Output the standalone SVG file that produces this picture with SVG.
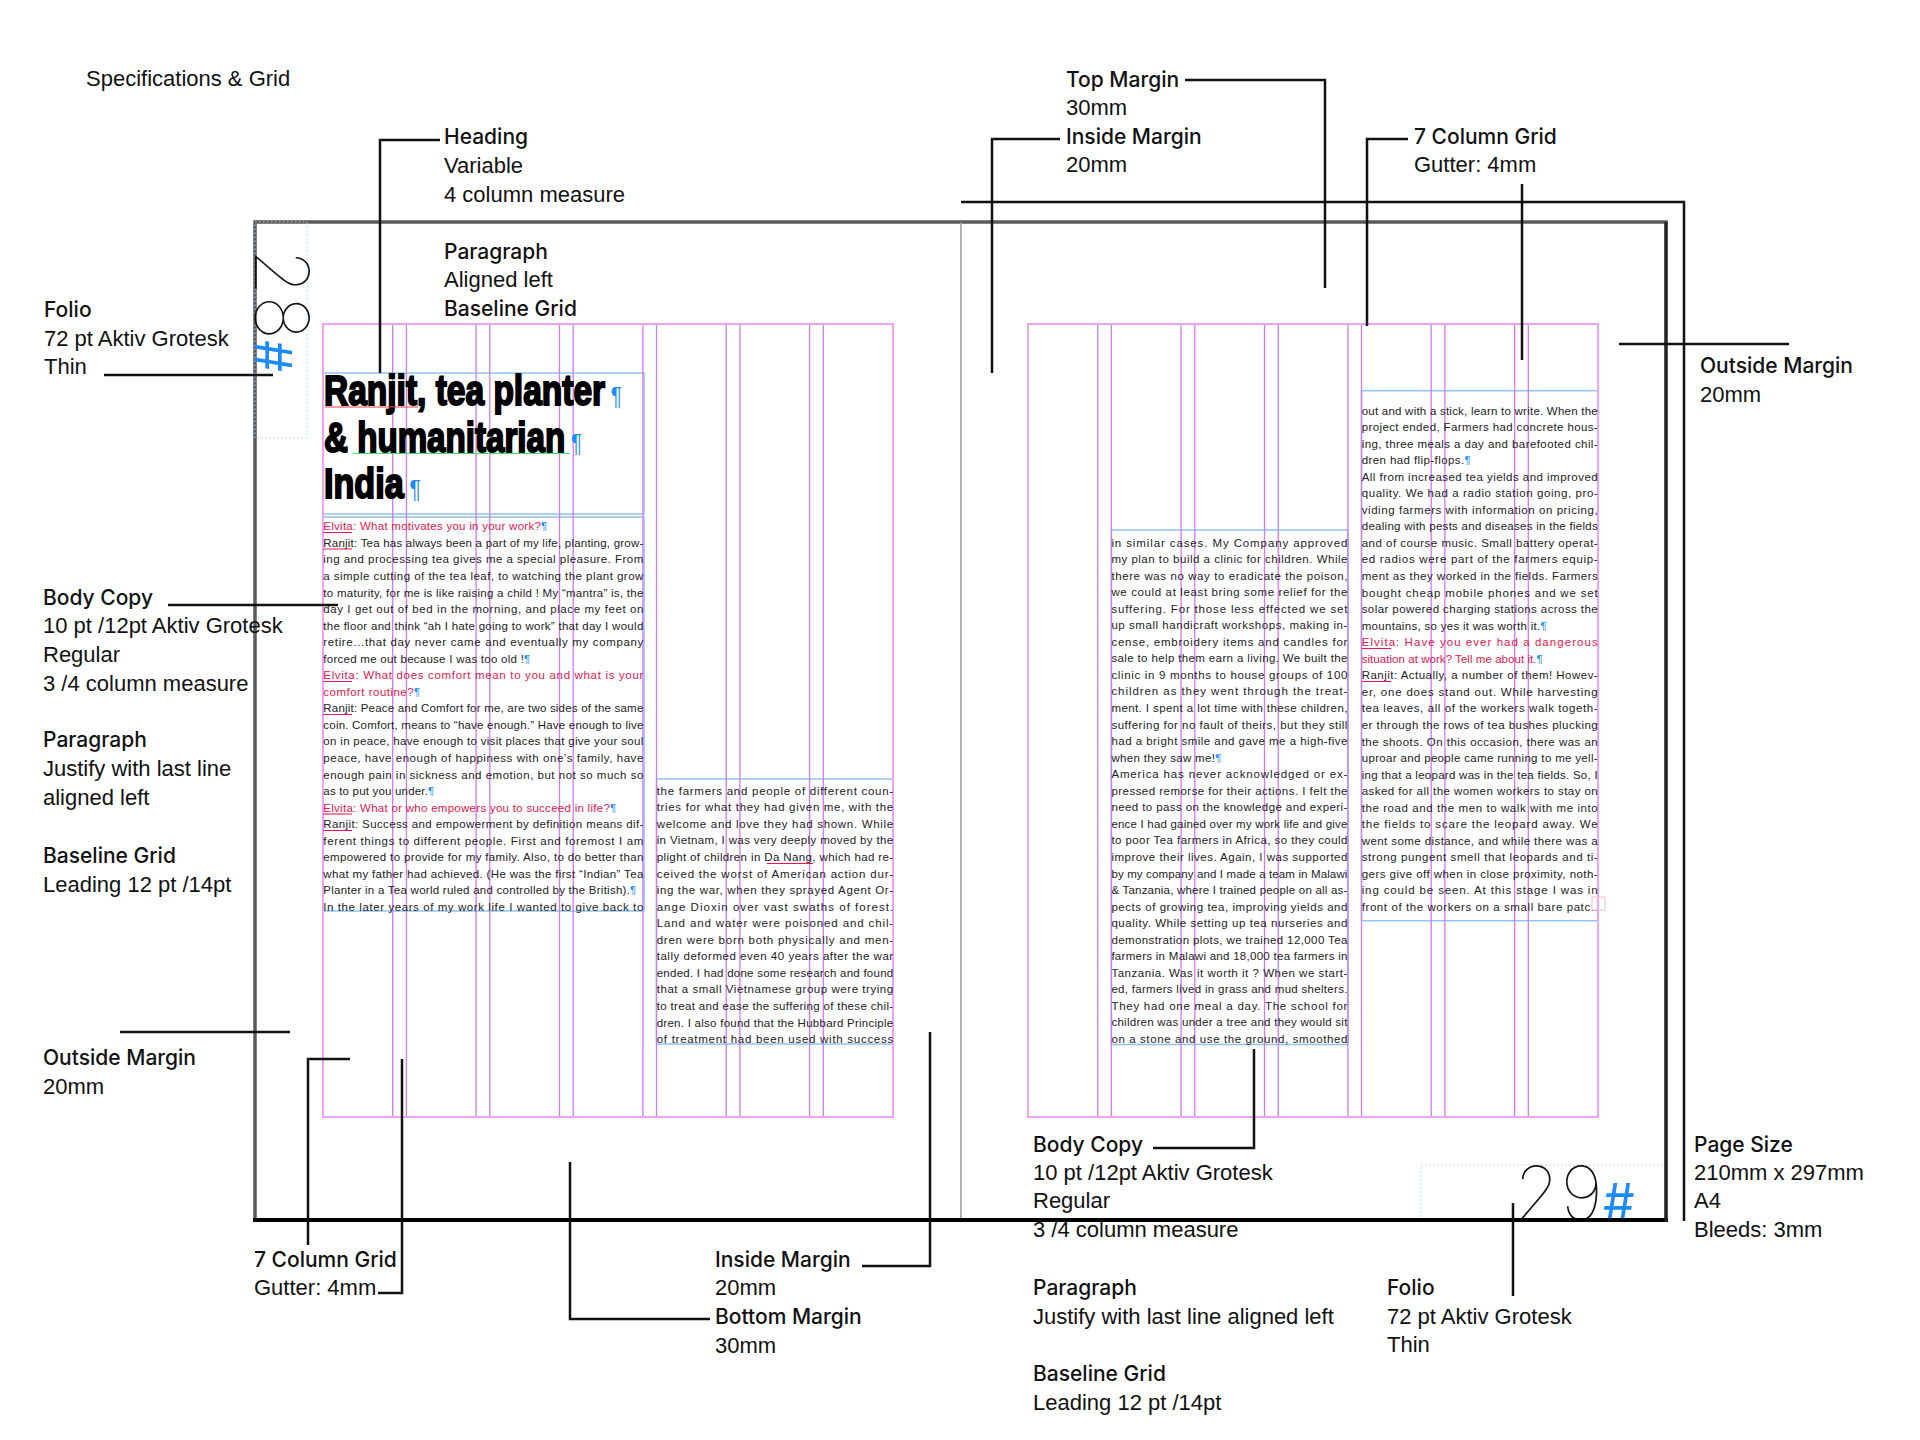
<svg xmlns="http://www.w3.org/2000/svg" width="1920" height="1440" viewBox="0 0 1920 1440">
<style>
.lbl{font-family:"Liberation Sans",Arial,sans-serif;font-size:22px;fill:#111}
.lb{font-family:Inter,"Liberation Sans",sans-serif;font-weight:500;font-size:21px;fill:#111}
.ldr{fill:none;stroke:#111;stroke-width:2.5}
.gv{fill:none;stroke:#d27af2;stroke-width:1.3}
.gh{fill:none;stroke:#f0a2f7;stroke-width:2}
.frm{fill:none;stroke:#8fc3f2;stroke-width:1.5}
.dot{fill:none;stroke:#a9d2f2;stroke-width:1;stroke-dasharray:1.5 2.5}
.bt{font-family:"Liberation Sans",Arial,sans-serif;font-size:11.5px;fill:#222}
.rt{fill:#e8174b}
.pil{fill:#1a8cff}
.hp{fill:#1a8cff;stroke:none;font-family:"Liberation Sans",sans-serif;font-weight:normal;font-size:26px}
.sp{stroke:#e8174b;stroke-width:1}
.hd{font-family:"Liberation Sans Narrow","Liberation Sans",sans-serif;font-weight:bold;font-size:42px;fill:#000;stroke:#000;stroke-width:2}
.fol{font-family:Inter,"Liberation Sans",sans-serif;font-weight:100;font-size:75px;fill:#111}
.hash{font-family:Inter,"Liberation Sans",sans-serif;font-weight:400;font-size:50px;fill:#1a8cff}
</style>

<g id="pages">
  <rect x="255" y="222" width="1411" height="998" fill="none" stroke="#5a5a5a" stroke-width="3.5"/>
  <path d="M961,222 V1220" stroke="#9a9a9a" stroke-width="1.5"/>
  <rect class="dot" x="255" y="222" width="52" height="216"/>
  <rect class="dot" x="1421" y="1165" width="245" height="55"/>
</g>

<g id="grid">
  <rect class="frm" x="323" y="373" width="321" height="141"/>
  <rect class="frm" x="323" y="517" width="321" height="394"/>
  <rect class="frm" x="656.5" y="779" width="236.5" height="265"/>
  <rect class="frm" x="1111.4" y="530" width="236.5" height="514.5"/>
  <rect class="frm" x="1361.5" y="390.7" width="236.5" height="530"/>
  <path class="gv" d="M392.7,324V1117M406.4,324V1117M476.1,324V1117M489.8,324V1117M559.5,324V1117M573.2,324V1117M642.9,324V1117M656.5,324V1117M726.2,324V1117M739.9,324V1117M809.6,324V1117M823.3,324V1117"/>
  <path class="gv" d="M1097.7,324V1117M1111.4,324V1117M1181.1,324V1117M1194.8,324V1117M1264.5,324V1117M1278.2,324V1117M1347.9,324V1117M1361.5,324V1117M1431.2,324V1117M1444.9,324V1117M1514.6,324V1117M1528.3,324V1117"/>
  <rect class="gh" x="323" y="324" width="570" height="793"/>
  <rect class="gh" x="1028" y="324" width="570" height="793"/>
</g>

<g id="folio-28">
  <text class="fol" transform="translate(255,249) rotate(90)">28<tspan class="hash">#</tspan></text>
</g>
<g id="folio-29">
  <text class="fol" x="1514" y="1220">29<tspan class="hash">#</tspan></text>
</g>

<g id="page-frame-lines">
  <path d="M253,1220 H1668" stroke="#000" stroke-width="4"/>
  <path d="M1666,222 V1222" stroke="#222" stroke-width="3"/>
</g>

<g id="heading-text">
  <text class="hd" x="324" y="405" textLength="298" lengthAdjust="spacingAndGlyphs">Ranjit, tea planter<tspan class="hp"> ¶</tspan></text>
  <text class="hd" x="324" y="452" textLength="258" lengthAdjust="spacingAndGlyphs">&amp; humanitarian<tspan class="hp"> ¶</tspan></text>
  <text class="hd" x="324" y="498" textLength="97" lengthAdjust="spacingAndGlyphs">India<tspan class="hp"> ¶</tspan></text>
  <path d="M325,407 H418" stroke="#f04040" stroke-width="1.2"/>
  <path d="M353,453.5 H570" stroke="#40e070" stroke-width="1.2"/>
</g>

<g id="body-left-1">
  <text class="bt rt" x="323.3" y="530.3" textLength="224">Elvita: What motivates you in your work?<tspan class="pil">¶</tspan></text>
  <text class="bt" x="323.3" y="546.85" textLength="320">Ranjit: Tea has always been a part of my life, planting, grow-</text>
  <text class="bt" x="323.3" y="563.4" textLength="320">ing and processing tea gives me a special pleasure. From</text>
  <text class="bt" x="323.3" y="579.95" textLength="320">a simple cutting of the tea leaf, to watching the plant grow</text>
  <text class="bt" x="323.3" y="596.5" textLength="320">to maturity, for me is like raising a child ! My “mantra” is, the</text>
  <text class="bt" x="323.3" y="613.05" textLength="320">day I get out of bed in the morning, and place my feet on</text>
  <text class="bt" x="323.3" y="629.6" textLength="320">the floor and think “ah I hate going to work” that day I would</text>
  <text class="bt" x="323.3" y="646.15" textLength="320">retire...that day never came and eventually my company</text>
  <text class="bt" x="323.3" y="662.7" textLength="207">forced me out because I was too old !<tspan class="pil">¶</tspan></text>
  <text class="bt rt" x="323.3" y="679.25" textLength="320">Elvita: What does comfort mean to you and what is your</text>
  <text class="bt rt" x="323.3" y="695.8" textLength="97">comfort routine?<tspan class="pil">¶</tspan></text>
  <text class="bt" x="323.3" y="712.35" textLength="320">Ranjit: Peace and Comfort for me, are two sides of the same</text>
  <text class="bt" x="323.3" y="728.9" textLength="320">coin. Comfort, means to “have enough.” Have enough to live</text>
  <text class="bt" x="323.3" y="745.45" textLength="320">on in peace, have enough to visit places that give your soul</text>
  <text class="bt" x="323.3" y="762" textLength="320">peace, have enough of happiness with one’s family, have</text>
  <text class="bt" x="323.3" y="778.55" textLength="320">enough pain in sickness and emotion, but not so much so</text>
  <text class="bt" x="323.3" y="795.1" textLength="111">as to put you under.<tspan class="pil">¶</tspan></text>
  <text class="bt rt" x="323.3" y="811.65" textLength="293">Elvita: What or who empowers you to succeed in life?<tspan class="pil">¶</tspan></text>
  <text class="bt" x="323.3" y="828.2" textLength="320">Ranjit: Success and empowerment by definition means dif-</text>
  <text class="bt" x="323.3" y="844.75" textLength="320">ferent things to different people. First and foremost  I am</text>
  <text class="bt" x="323.3" y="861.3" textLength="320">empowered to provide for my family. Also, to do better than</text>
  <text class="bt" x="323.3" y="877.85" textLength="320">what my father had achieved.  (He was the first “Indian” Tea</text>
  <text class="bt" x="323.3" y="894.4" textLength="313">Planter in a Tea world ruled and controlled by the British).<tspan class="pil">¶</tspan></text>
  <text class="bt" x="323.3" y="910.95" textLength="320">In the later years of my work life I wanted to give back to</text>
  <path class="sp" d="M323,532.5H352M323,549H352M323,681.5H352M323,714.5H352M323,814H352M323,830.5H352"/>
</g>

<g id="body-left-2">
  <text class="bt" x="656.7" y="794.8" textLength="236.5">the farmers and people of different coun-</text>
  <text class="bt" x="656.7" y="811.35" textLength="236.5">tries for what they had given me, with the</text>
  <text class="bt" x="656.7" y="827.9" textLength="236.5">welcome and love they had shown. While</text>
  <text class="bt" x="656.7" y="844.45" textLength="236.5">in Vietnam, I was very deeply moved by the</text>
  <text class="bt" x="656.7" y="861" textLength="236.5">plight of children in Da Nang, which had re-</text>
  <text class="bt" x="656.7" y="877.55" textLength="236.5">ceived the worst of American action dur-</text>
  <text class="bt" x="656.7" y="894.1" textLength="236.5">ing the war, when they sprayed Agent Or-</text>
  <text class="bt" x="656.7" y="910.65" textLength="236.5">ange Dioxin over vast swaths of forest.</text>
  <text class="bt" x="656.7" y="927.2" textLength="236.5">Land and water were poisoned and  chil-</text>
  <text class="bt" x="656.7" y="943.75" textLength="236.5">dren were born both physically and men-</text>
  <text class="bt" x="656.7" y="960.3" textLength="236.5">tally deformed even 40 years after the war</text>
  <text class="bt" x="656.7" y="976.85" textLength="236.5">ended. I had done some research and found</text>
  <text class="bt" x="656.7" y="993.4" textLength="236.5">that a small Vietnamese group were trying</text>
  <text class="bt" x="656.7" y="1009.95" textLength="236.5">to treat and ease the suffering of these chil-</text>
  <text class="bt" x="656.7" y="1026.5" textLength="236.5">dren. I also found that the Hubbard Principle</text>
  <text class="bt" x="656.7" y="1043.05" textLength="236.5">of treatment had been used with success</text>
  <path class="sp" d="M767,863.5H813"/>
</g>

<g id="body-right-1">
  <text class="bt" x="1111.4" y="546.5" textLength="236">in similar cases. My Company approved</text>
  <text class="bt" x="1111.4" y="563.05" textLength="236">my plan to build a clinic for children. While</text>
  <text class="bt" x="1111.4" y="579.6" textLength="236">there was no way to eradicate the poison,</text>
  <text class="bt" x="1111.4" y="596.15" textLength="236">we could at least bring some relief for the</text>
  <text class="bt" x="1111.4" y="612.7" textLength="236">suffering. For those less effected we set</text>
  <text class="bt" x="1111.4" y="629.25" textLength="236">up small handicraft workshops, making in-</text>
  <text class="bt" x="1111.4" y="645.8" textLength="236">cense, embroidery items and candles for</text>
  <text class="bt" x="1111.4" y="662.35" textLength="236">sale to help them earn a living. We built the</text>
  <text class="bt" x="1111.4" y="678.9" textLength="236">clinic in 9 months to house groups of 100</text>
  <text class="bt" x="1111.4" y="695.45" textLength="236">children as they went through the treat-</text>
  <text class="bt" x="1111.4" y="712" textLength="236">ment. I spent a lot time with these children,</text>
  <text class="bt" x="1111.4" y="728.55" textLength="236">suffering for no fault of theirs, but they still</text>
  <text class="bt" x="1111.4" y="745.1" textLength="236">had a bright smile and gave me a high-five</text>
  <text class="bt" x="1111.4" y="761.65" textLength="110">when they saw me!<tspan class="pil">¶</tspan></text>
  <text class="bt" x="1111.4" y="778.2" textLength="236">America has never acknowledged or ex-</text>
  <text class="bt" x="1111.4" y="794.75" textLength="236">pressed remorse for their actions. I felt the</text>
  <text class="bt" x="1111.4" y="811.3" textLength="236">need to pass on the knowledge and experi-</text>
  <text class="bt" x="1111.4" y="827.85" textLength="236">ence I had gained over my work life and give</text>
  <text class="bt" x="1111.4" y="844.4" textLength="236">to poor Tea farmers in Africa, so they could</text>
  <text class="bt" x="1111.4" y="860.95" textLength="236">improve their lives. Again, I was supported</text>
  <text class="bt" x="1111.4" y="877.5" textLength="236">by my company and I made a team in Malawi</text>
  <text class="bt" x="1111.4" y="894.05" textLength="236">&amp; Tanzania, where I trained people on all as-</text>
  <text class="bt" x="1111.4" y="910.6" textLength="236">pects of growing tea, improving yields and</text>
  <text class="bt" x="1111.4" y="927.15" textLength="236">quality. While setting up tea nurseries and</text>
  <text class="bt" x="1111.4" y="943.7" textLength="236">demonstration plots, we trained 12,000 Tea</text>
  <text class="bt" x="1111.4" y="960.25" textLength="236">farmers in Malawi and 18,000 tea farmers in</text>
  <text class="bt" x="1111.4" y="976.8" textLength="236">Tanzania. Was it worth it ? When we start-</text>
  <text class="bt" x="1111.4" y="993.35" textLength="236">ed, farmers lived in grass and mud shelters.</text>
  <text class="bt" x="1111.4" y="1009.9" textLength="236">They had one meal a day. The school for</text>
  <text class="bt" x="1111.4" y="1026.45" textLength="236">children was under a tree and they would sit</text>
  <text class="bt" x="1111.4" y="1043" textLength="236">on a stone and use the ground, smoothed</text>
</g>

<g id="body-right-2">
  <text class="bt" x="1361.7" y="414.5" textLength="236">out and with a stick, learn to write. When the</text>
  <text class="bt" x="1361.7" y="431.05" textLength="236">project ended, Farmers had concrete hous-</text>
  <text class="bt" x="1361.7" y="447.6" textLength="236">ing, three meals a day and barefooted chil-</text>
  <text class="bt" x="1361.7" y="464.15" textLength="109">dren had flip-flops.<tspan class="pil">¶</tspan></text>
  <text class="bt" x="1361.7" y="480.7" textLength="236">All from increased tea yields and improved</text>
  <text class="bt" x="1361.7" y="497.25" textLength="236">quality. We had a radio station going, pro-</text>
  <text class="bt" x="1361.7" y="513.8" textLength="236">viding farmers with information on pricing,</text>
  <text class="bt" x="1361.7" y="530.35" textLength="236">dealing with pests and diseases in the fields</text>
  <text class="bt" x="1361.7" y="546.9" textLength="236">and of course music. Small battery operat-</text>
  <text class="bt" x="1361.7" y="563.45" textLength="236">ed radios were part of the farmers equip-</text>
  <text class="bt" x="1361.7" y="580" textLength="236">ment as they worked in the fields. Farmers</text>
  <text class="bt" x="1361.7" y="596.55" textLength="236">bought cheap mobile phones and we set</text>
  <text class="bt" x="1361.7" y="613.1" textLength="236">solar powered charging stations across the</text>
  <text class="bt" x="1361.7" y="629.65" textLength="185">mountains, so yes it was worth it.<tspan class="pil">¶</tspan></text>
  <text class="bt rt" x="1361.7" y="646.2" textLength="236">Elvita: Have you ever had a dangerous</text>
  <text class="bt rt" x="1361.7" y="662.75" textLength="181">situation at work? Tell me about it.<tspan class="pil">¶</tspan></text>
  <text class="bt" x="1361.7" y="679.3" textLength="236">Ranjit: Actually, a number of them! Howev-</text>
  <text class="bt" x="1361.7" y="695.85" textLength="236">er, one does stand out. While harvesting</text>
  <text class="bt" x="1361.7" y="712.4" textLength="236">tea leaves, all of the workers walk togeth-</text>
  <text class="bt" x="1361.7" y="728.95" textLength="236">er through the rows of tea bushes plucking</text>
  <text class="bt" x="1361.7" y="745.5" textLength="236">the shoots. On this occasion, there was an</text>
  <text class="bt" x="1361.7" y="762.05" textLength="236">uproar and people came running to me yell-</text>
  <text class="bt" x="1361.7" y="778.6" textLength="236">ing that a leopard was in the tea fields. So, I</text>
  <text class="bt" x="1361.7" y="795.15" textLength="236">asked for all the women workers to stay on</text>
  <text class="bt" x="1361.7" y="811.7" textLength="236">the road and the men to walk with me into</text>
  <text class="bt" x="1361.7" y="828.25" textLength="236">the fields to scare the leopard away. We</text>
  <text class="bt" x="1361.7" y="844.8" textLength="236">went some distance, and while there was a</text>
  <text class="bt" x="1361.7" y="861.35" textLength="236">strong pungent smell that leopards and ti-</text>
  <text class="bt" x="1361.7" y="877.9" textLength="236">gers give off when in close proximity, noth-</text>
  <text class="bt" x="1361.7" y="894.45" textLength="236">ing could be seen. At this stage I was in</text>
  <text class="bt" x="1361.7" y="911" textLength="236">front of the workers on a small bare patc..</text>
  <path class="sp" d="M1362,648.5H1391M1362,681.5H1391"/>
  <rect x="1592" y="897" width="13" height="13" fill="none" stroke="#f5b8c8" stroke-width="1"/>
</g>

<g id="connectors">
  <path class="ldr" d="M440,140 H380 V373"/>
  <path class="ldr" d="M104,375 H273"/>
  <path class="ldr" d="M168,605 H338"/>
  <path class="ldr" d="M120,1032 H290"/>
  <path class="ldr" d="M350,1059 H308 V1245"/>
  <path class="ldr" d="M402,1059 V1293 H378"/>
  <path class="ldr" d="M570,1162 V1319 H710"/>
  <path class="ldr" d="M862,1266 H930 V1032"/>
  <path class="ldr" d="M1185,80 H1325 V288"/>
  <path class="ldr" d="M1060,139 H992 V373"/>
  <path class="ldr" d="M1408,139 H1367 V326"/>
  <path class="ldr" d="M1522,184 V360"/>
  <path class="ldr" d="M1619,344 H1789"/>
  <path class="ldr" d="M1254,1049 V1148 H1153"/>
  <path class="ldr" d="M1513,1203 V1296"/>
  <path class="ldr" d="M961,202 H1684 V1221"/>
</g>

<g id="title"><text class="lbl" x="86" y="86">Specifications &amp; Grid</text></g>

<g id="label-heading">
  <text class="lb" x="444" y="144">Heading</text>
  <text class="lbl" x="444" y="173">Variable</text>
  <text class="lbl" x="444" y="202">4 column measure</text>
</g>
<g id="label-paragraph-top">
  <text class="lb" x="444" y="259">Paragraph</text>
  <text class="lbl" x="444" y="287">Aligned left</text>
  <text class="lb" x="444" y="316">Baseline Grid</text>
</g>
<g id="label-folio-left">
  <text class="lb" x="44" y="317">Folio</text>
  <text class="lbl" x="44" y="346">72 pt Aktiv Grotesk</text>
  <text class="lbl" x="44" y="374">Thin</text>
</g>
<g id="label-body-left">
  <text class="lb" x="43" y="605">Body Copy</text>
  <text class="lbl" x="43" y="633">10 pt /12pt Aktiv Grotesk</text>
  <text class="lbl" x="43" y="662">Regular</text>
  <text class="lbl" x="43" y="691">3 /4 column measure</text>
  <text class="lb" x="43" y="747">Paragraph</text>
  <text class="lbl" x="43" y="776">Justify with last line</text>
  <text class="lbl" x="43" y="805">aligned left</text>
  <text class="lb" x="43" y="863">Baseline Grid</text>
  <text class="lbl" x="43" y="892">Leading 12 pt /14pt</text>
</g>
<g id="label-outside-left">
  <text class="lb" x="43" y="1065">Outside Margin</text>
  <text class="lbl" x="43" y="1094">20mm</text>
</g>
<g id="label-grid-left">
  <text class="lb" x="254" y="1267">7 Column Grid</text>
  <text class="lbl" x="254" y="1295">Gutter: 4mm</text>
</g>
<g id="label-inside-bottom">
  <text class="lb" x="715" y="1267">Inside Margin</text>
  <text class="lbl" x="715" y="1295">20mm</text>
  <text class="lb" x="715" y="1324">Bottom Margin</text>
  <text class="lbl" x="715" y="1353">30mm</text>
</g>
<g id="label-top-margin">
  <text class="lb" x="1066" y="87">Top Margin</text>
  <text class="lbl" x="1066" y="115">30mm</text>
  <text class="lb" x="1066" y="144">Inside Margin</text>
  <text class="lbl" x="1066" y="172">20mm</text>
</g>
<g id="label-grid-right">
  <text class="lb" x="1414" y="144">7 Column Grid</text>
  <text class="lbl" x="1414" y="172">Gutter: 4mm</text>
</g>
<g id="label-outside-right">
  <text class="lb" x="1700" y="373">Outside Margin</text>
  <text class="lbl" x="1700" y="402">20mm</text>
</g>
<g id="label-body-right">
  <text class="lb" x="1033" y="1152">Body Copy</text>
  <text class="lbl" x="1033" y="1180">10 pt /12pt Aktiv Grotesk</text>
  <text class="lbl" x="1033" y="1208">Regular</text>
  <text class="lbl" x="1033" y="1237">3 /4 column measure</text>
  <text class="lb" x="1033" y="1295">Paragraph</text>
  <text class="lbl" x="1033" y="1324">Justify with last line aligned left</text>
  <text class="lb" x="1033" y="1381">Baseline Grid</text>
  <text class="lbl" x="1033" y="1410">Leading 12 pt /14pt</text>
</g>
<g id="label-folio-right">
  <text class="lb" x="1387" y="1295">Folio</text>
  <text class="lbl" x="1387" y="1324">72 pt Aktiv Grotesk</text>
  <text class="lbl" x="1387" y="1352">Thin</text>
</g>
<g id="label-page-size">
  <text class="lb" x="1694" y="1152">Page Size</text>
  <text class="lbl" x="1694" y="1180">210mm x 297mm</text>
  <text class="lbl" x="1694" y="1208">A4</text>
  <text class="lbl" x="1694" y="1237">Bleeds: 3mm</text>
</g>
</svg>
